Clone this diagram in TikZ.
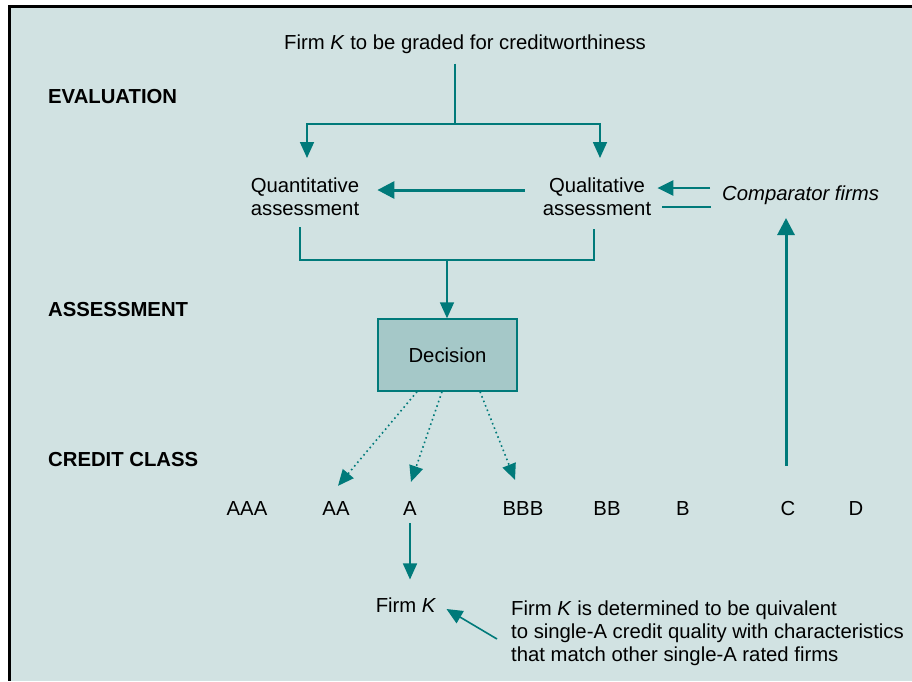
\documentclass[tikz,border=0pt]{standalone}
\usepackage{fontspec}
\setmainfont{Liberation Sans}
\usetikzlibrary{arrows.meta,calc}

\definecolor{panel}{RGB}{209,226,226}
\definecolor{tealline}{RGB}{0,122,122}
\definecolor{boxfill}{RGB}{165,200,200}

\tikzset{
  txt/.style={inner sep=0pt, font=\fontsize{20.3}{23}\selectfont},
  heading/.style={txt, anchor=west, font=\fontsize{20.3}{23}\selectfont\bfseries},
  grade/.style={txt, anchor=base},
  conn/.style={draw=tealline, line width=1.7pt},
  arr/.style={conn, -{Triangle[width=14pt,length=16pt]}},
  arrbold/.style={draw=tealline, line width=3pt, -{Triangle[width=17pt,length=17pt]}},
  arrmid/.style={draw=tealline, line width=2.6pt, -{Triangle[width=15pt,length=16pt]}},
  dotarr/.style={draw=tealline, line width=1.6pt, dash pattern=on 1.6pt off 3.2pt,
                 -{Triangle[width=14pt,length=16pt]}},
  thinarr/.style={draw=tealline, line width=1.6pt, -{Triangle[width=14pt,length=16pt]}},
  decbox/.style={txt, draw=tealline, fill=boxfill, line width=1.4pt,
                 minimum width=139pt, minimum height=72pt},
}

\begin{document}
\begin{tikzpicture}[x=1pt,y=-1pt]
  \useasboundingbox (0,0) rectangle (912,681);
  % panel with its top and left frame
  \fill[white] (0,0) rectangle (912,681);
  \fill[panel] (8,5) rectangle (912,681);
  \fill[black] (8,5) rectangle (912,8);
  \fill[black] (8,5) rectangle (11,681);

  % row headings
  \node[heading] (hEval)   at (48,97)  {EVALUATION};
  \node[heading] (hAssess) at (48,310) {ASSESSMENT};
  \node[heading] (hClass)  at (48,460) {CREDIT CLASS};

  % evaluation stage
  \node[txt] (title) at (465,44) {Firm \textit{K} to be graded for creditworthiness};
  \node[txt, align=center] (quant) at (305,197) {Quantitative\\assessment};
  \node[txt, align=center] (qual)  at (597,197) {Qualitative\\assessment};
  \node[txt, anchor=west] (comp) at (722,195) {\textit{Comparator firms}};

  % decision
  \node[decbox] (dec) at (447.5,355) {Decision};

  % credit grades, all on one baseline
  \node[grade] (gAAA) at (247,515) {AAA};
  \node[grade] (gAA)  at (336,515) {AA};
  \node[grade] (gA)   at (410,515) {A};
  \node[grade] (gBBB) at (523,515) {BBB};
  \node[grade] (gBB)  at (607,515) {BB};
  \node[grade] (gB)   at (683,515) {B};
  \node[grade] (gC)   at (788,515) {C};
  \node[grade] (gD)   at (856,515) {D};

  % outcome
  \node[txt] (firmk) at (406,605) {Firm \textit{K}};
  \node[txt, anchor=west, align=left] (note) at (511,633)
    {Firm \textit{K} is determined to be quivalent\\
     to single-A credit quality with characteristics\\
     that match other single-A rated firms};

  % split from the firm to both assessments
  \coordinate (split) at (455,124);
  \coordinate (qa) at (307,158);
  \coordinate (qb) at (600,158);
  \draw[conn] (title.south -| split) ++(0,10) -- (split);
  \draw[arr] (split) -| (qa);
  \draw[arr] (split) -| (qb);

  % qualitative feeds quantitative
  \draw[arrbold] ([shift={(-18pt,7pt)}]qual.west) -- ([shift={(18pt,7pt)}]quant.east);

  % comparator firms exchange
  \draw[arrmid] ([shift={(-12pt,7pt)}]comp.west) -- ([shift={(6pt,9pt)}]qual.east);
  \draw[draw=tealline, line width=2.6pt] ([shift={(11pt,-10pt)}]qual.east) -- ([shift={(-11pt,-12pt)}]comp.west);

  % grade C back up to the comparator firms
  \coordinate (cTop) at (786,218);
  \draw[arrbold] ([shift={(-2pt,35pt)}]gC.north) -- (cTop);

  % both assessments join into the decision
  \coordinate (join) at (447,260);
  \draw[conn] ([shift={(-5pt,-11pt)}]quant.south) |- (join);
  \draw[conn] ([shift={(-3pt,-13pt)}]qual.south) |- (join);
  \draw[arr] (join) -- (join |- dec.north);

  % candidate grades from the decision
  \draw[dotarr] ([xshift=-30.5pt]dec.south) -- ([shift={(2pt,15pt)}]gAA.north);
  \draw[dotarr] ([xshift=-5.5pt]dec.south) -- ([shift={(1pt,19pt)}]gA.north);
  \draw[dotarr] ([xshift=32.5pt]dec.south) -- ([shift={(-8pt,21pt)}]gBBB.north);

  % grade A assigned to firm K
  \draw[thinarr] ([yshift=-8pt]gA.south) -- ([yshift=18pt]gA.south |- firmk.north);
  \draw[thinarr] ([shift={(-14pt,-6pt)}]note.west) -- ([shift={(10pt,-4pt)}]firmk.east);
\end{tikzpicture}
\end{document}
